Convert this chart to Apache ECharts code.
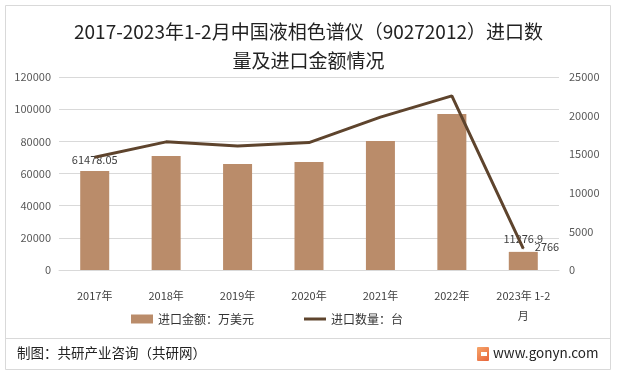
<!DOCTYPE html>
<html>
<head>
<meta charset="utf-8">
<script src="https://cdn.jsdelivr.net/npm/echarts@6/dist/echarts.min.js"></script>
<style>
  html, body { margin: 0; padding: 0; background: #fff; }
  #chart { width: 617px; height: 377px; }
</style>
</head>
<body>
<div id="chart"></div>
<script>
// 年份
var categories = ["2017年", "2018年", "2019年", "2020年", "2021年", "2022年", "2023年 1-2月"];
// 进口金额：万美元
var amountData = [61478.05, 70900, 65900, 67200, 80200, 97000, 11276.9];
// 进口数量：台
var countData = [14600, 16600, 16050, 16500, 19800, 22550, 2766];
// 刻度
var leftTicks = { min: 0, max: 120000, interval: 20000 };
var rightTicks = { min: 0, max: 25000, interval: 5000 };

var chart = echarts.init(document.getElementById("chart"));
var font = "'Noto Sans CJK SC', 'Noto Sans', sans-serif";

// 只给首尾两个点加数据标签
var barSeriesData = amountData.map(function(v, i) {
  if (i === 0) {
    return { value: v, label: { show: true, position: "top", offset: [0, -1] } };
  }
  if (i === amountData.length - 1) {
    return { value: v, label: { show: true, position: "top", offset: [0, -3] } };
  }
  return v;
});
var lineSeriesData = countData.map(function(v, i) {
  if (i === countData.length - 1) {
    return { value: v, label: { show: true, position: "right", offset: [6, -2] } };
  }
  return v;
});

function plain(v) {
  return String(v);
}

var option = {
  backgroundColor: "#fff",
  textStyle: { fontFamily: font },
  title: {
    text: "2017-2023年1-2月中国液相色谱仪（90272012）进口数\n量及进口金额情况",
    left: "center",
    top: 12,
    textStyle: {
      fontFamily: font,
      fontSize: 19,
      fontWeight: "normal",
      color: "#222",
      lineHeight: 29
    }
  },
  legend: {
    bottom: 47,
    left: 126,
    itemGap: 50,
    itemWidth: 22,
    itemHeight: 9,
    textStyle: { fontSize: 12, color: "#333", fontFamily: font },
    data: [
      { name: "进口金额：万美元", icon: "rect" },
      { name: "进口数量：台", icon: "path://M0,4 L22,4 L22,7 L0,7 Z" }
    ]
  },
  grid: {
    left: 59,
    right: 58,
    top: 77,
    bottom: 107
  },
  xAxis: {
    type: "category",
    data: categories,
    axisLine: { lineStyle: { color: "#d9d9d9" } },
    axisTick: { show: false },
    axisLabel: {
      color: "#404040",
      fontSize: 11,
      margin: 16,
      interval: 0,
      lineHeight: 20,
      formatter: function(v) {
        return v.replace("1-2月", "1-2\n月");
      }
    }
  },
  yAxis: [
    {
      type: "value",
      min: leftTicks.min,
      max: leftTicks.max,
      interval: leftTicks.interval,
      axisLine: { show: false },
      axisTick: { show: false },
      axisLabel: { color: "#595959", fontSize: 11, margin: 8, formatter: plain },
      splitLine: { lineStyle: { color: "#d9d9d9" } }
    },
    {
      type: "value",
      min: rightTicks.min,
      max: rightTicks.max,
      interval: rightTicks.interval,
      axisLine: { show: false },
      axisTick: { show: false },
      axisLabel: { color: "#595959", fontSize: 11, margin: 10, formatter: plain },
      splitLine: { show: false }
    }
  ],
  series: [
    {
      name: "进口金额：万美元",
      type: "bar",
      yAxisIndex: 0,
      barWidth: 29,
      itemStyle: { color: "#BA8C6A" },
      label: { show: false, color: "#404040", fontSize: 11, formatter: "{c}" },
      data: barSeriesData,
      z: 2
    },
    {
      name: "进口数量：台",
      type: "line",
      yAxisIndex: 1,
      symbol: "circle",
      symbolSize: 1,
      showSymbol: true,
      lineStyle: { color: "#5E442D", width: 3 },
      itemStyle: { color: "#5E442D" },
      label: { show: false, color: "#404040", fontSize: 11, formatter: "{c}" },
      data: lineSeriesData,
      z: 3
    }
  ],
  graphic: [
    {
      type: "rect",
      shape: { x: 5.5, y: 5.5, width: 605, height: 364 },
      style: { fill: "none", stroke: "#d9d9d9", lineWidth: 1 },
      silent: true
    },
    {
      type: "line",
      shape: { x1: 6, y1: 338.5, x2: 610, y2: 338.5 },
      style: { stroke: "#d9d9d9", lineWidth: 1 },
      silent: true
    },
    {
      type: "text",
      left: 17,
      top: 346,
      style: { text: "制图：共研产业咨询（共研网）", fill: "#222", font: "13.5px " + font }
    },
    {
      type: "rect",
      shape: { x: 477, y: 347, width: 12, height: 14, r: 1 },
      style: {
        fill: new echarts.graphic.LinearGradient(0, 0, 1, 1, [
          { offset: 0, color: "#f6a66a" },
          { offset: 1, color: "#e7633a" }
        ])
      },
      silent: true
    },
    {
      type: "rect",
      shape: { x: 481, y: 352, width: 6, height: 4 },
      style: { fill: "#fff" },
      silent: true
    },
    {
      type: "text",
      left: 493,
      top: 346,
      style: { text: "www.gonyn.com", fill: "#222", font: "13.5px " + font }
    }
  ]
};

chart.setOption(option);
</script>
</body>
</html>
